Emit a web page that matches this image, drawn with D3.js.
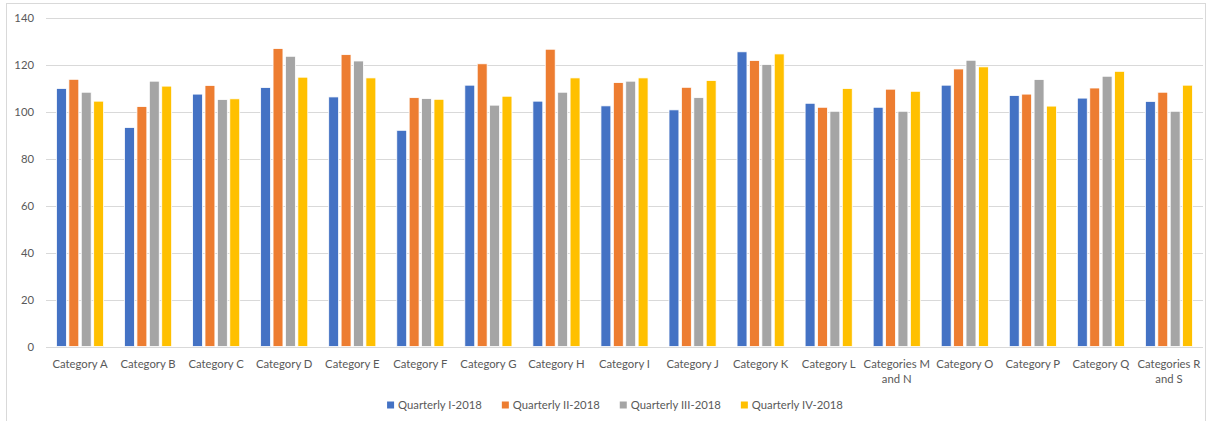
<!DOCTYPE html>
<html>
<head>
<meta charset="utf-8">
<script src="https://cdn.jsdelivr.net/npm/d3@7"></script>
<style>
  html, body { margin: 0; padding: 0; background: #fff; }
  svg { display: block; }
  text { font-family: "Lato", "Open Sans", "Liberation Sans", sans-serif; fill: #595959; }
</style>
</head>
<body>
<svg id="chart" width="1207" height="421"></svg>
<script>
// Categories along the x axis
const categories = [
  "Category A", "Category B", "Category C", "Category D", "Category E",
  "Category F", "Category G", "Category H", "Category I", "Category J",
  "Category K", "Category L", "Categories M and N", "Category O",
  "Category P", "Category Q", "Categories R and S"
];

// One series per quarter
const seriesNames = ["Quarterly I-2018", "Quarterly II-2018", "Quarterly III-2018", "Quarterly IV-2018"];

const q1 = [109.8, 93.2, 107.4, 110.2, 106.2, 92.0, 111.2, 104.4, 102.4, 100.7, 125.4, 103.5, 101.8, 111.2, 106.8, 105.7, 104.3];
const q2 = [113.7, 102.1, 111.1, 126.8, 124.2, 105.9, 120.3, 126.5, 112.3, 110.3, 121.7, 101.8, 109.5, 118.1, 107.4, 110.0, 108.2];
const q3 = [108.2, 112.9, 105.1, 123.5, 121.5, 105.5, 102.7, 108.2, 112.9, 105.9, 120.0, 100.1, 100.1, 121.8, 113.6, 115.0, 100.1];
const q4 = [104.4, 110.8, 105.4, 114.6, 114.3, 105.2, 106.5, 114.3, 114.3, 113.2, 124.5, 109.8, 108.6, 119.0, 102.3, 117.1, 111.2];

const yTicks = [0, 20, 40, 60, 80, 100, 120, 140];
const colors = ["#4472C4", "#ED7D31", "#A5A5A5", "#FFC000"];

const seriesValues = [q1, q2, q3, q4];
const rows = categories.map((c, i) => ({
  category: c,
  values: seriesNames.map((s, k) => ({ series: s, value: seriesValues[k][i] }))
}));

const FONT = "Lato, 'Open Sans', sans-serif";
const FONT_SIZE = "11.3px";

const svg = d3.select("#chart");

// Chart frame
svg.append("rect")
  .attr("x", 6.5).attr("y", 3.5)
  .attr("width", 1199).attr("height", 430)
  .attr("fill", "none").attr("stroke", "#d9d9d9").attr("stroke-width", 1);

const plot = { left: 46, right: 1203, top: 17.5, bottom: 346.5 };

const y = d3.scaleLinear().domain([0, 140]).range([plot.bottom, plot.top]);

const x0 = d3.scaleBand()
  .domain(categories)
  .range([plot.left, plot.right])
  .paddingInner(0.271)
  .paddingOuter(0.1355);

const x1 = d3.scaleBand()
  .domain(seriesNames)
  .range([0, x0.bandwidth()])
  .paddingInner(0.2)
  .paddingOuter(0.1);

const color = d3.scaleOrdinal().domain(seriesNames).range(colors);

// Horizontal gridlines
svg.append("g")
  .selectAll("line")
  .data(yTicks)
  .join("line")
  .attr("x1", plot.left).attr("x2", plot.right)
  .attr("y1", d => Math.round(y(d)) + 0.5).attr("y2", d => Math.round(y(d)) + 0.5)
  .attr("stroke", "#d9d9d9").attr("stroke-width", 1);

// Y axis labels
const yAxis = d3.axisLeft(y).tickValues(yTicks).tickSize(0).tickPadding(0);
const gy = svg.append("g").attr("transform", `translate(${plot.left - 12},0)`).call(yAxis);
gy.select(".domain").remove();
gy.selectAll("text")
  .attr("font-size", FONT_SIZE)
  .attr("fill", "#595959")
  .style("font-family", FONT);

// Bars
const groups = svg.append("g")
  .selectAll("g")
  .data(rows)
  .join("g")
  .attr("transform", d => `translate(${x0(d.category)},0)`);

groups.selectAll("rect")
  .data(d => d.values)
  .join("rect")
  .attr("x", d => x1(d.series))
  .attr("y", d => y(d.value))
  .attr("width", x1.bandwidth())
  .attr("height", d => y(0) - y(d.value))
  .attr("fill", d => color(d.series))
  .attr("stroke", "#ffffff")
  .attr("stroke-width", 0.8);

// Category axis (labels wrap when wider than one band)
const xAxis = d3.axisBottom(x0).tickSize(0).tickPadding(0);
const gx = svg.append("g").attr("transform", `translate(0,${plot.bottom})`).call(xAxis);
gx.select(".domain").remove();
gx.selectAll("text")
  .attr("font-size", FONT_SIZE)
  .attr("fill", "#595959")
  .style("font-family", FONT)
  .attr("y", 21)
  .attr("dy", null)
  .each(function (d) {
    const t = d3.select(this);
    const maxW = x0.step() + 4;
    if (this.getComputedTextLength() <= maxW) return;
    const words = d.split(" ");
    t.text(null);
    let line = [];
    let tspan = t.append("tspan").attr("x", 0).attr("dy", 0);
    for (const w of words) {
      line.push(w);
      tspan.text(line.join(" "));
      if (tspan.node().getComputedTextLength() > maxW && line.length > 1) {
        line.pop();
        tspan.text(line.join(" "));
        line = [w];
        tspan = t.append("tspan").attr("x", 0).attr("dy", "15.5px").text(w);
      }
    }
  });

// Legend
const legend = svg.append("g").attr("transform", "translate(0,405)");
const items = legend.selectAll("g")
  .data(seriesNames)
  .join("g");
items.append("rect")
  .attr("width", 7).attr("height", 7)
  .attr("y", -3.5)
  .attr("fill", d => color(d));
items.append("text")
  .attr("x", 11)
  .attr("dy", "0.35em")
  .attr("font-size", FONT_SIZE)
  .style("font-family", FONT)
  .text(d => d);

const widths = [];
items.each(function () {
  widths.push(11 + d3.select(this).select("text").node().getComputedTextLength());
});
const gap = 20;
const total = d3.sum(widths) + gap * (widths.length - 1);
let cursor = 615 - total / 2;
items.attr("transform", (d, i) => {
  const tx = cursor;
  cursor += widths[i] + gap;
  return `translate(${tx},0)`;
});
</script>
</body>
</html>
